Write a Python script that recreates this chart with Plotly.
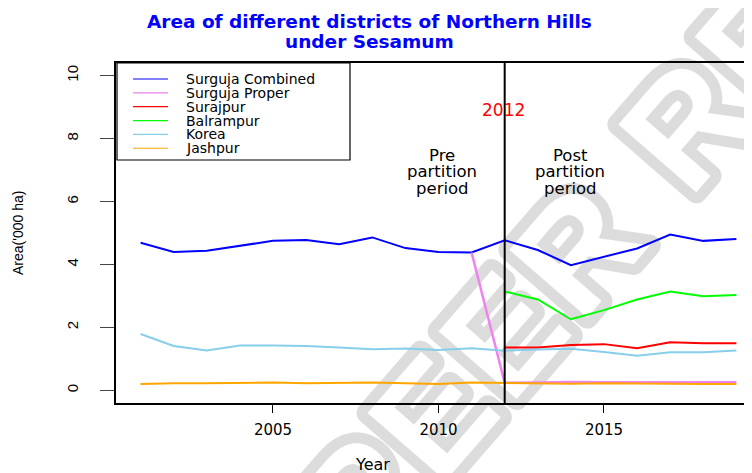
import plotly.graph_objects as go

# ---------------- data ----------------
years = list(range(2001, 2020))
series_names = ["Surguja Combined", "Surguja Proper", "Surajpur", "Balrampur", "Korea", "Jashpur"]
series_colors = ["#0000FF", "#EE82EE", "#FF0000", "#00FF00", "#87CEEB", "#FFA500"]

surguja_combined = [4.69, 4.40, 4.44, 4.60, 4.75, 4.78, 4.64, 4.86, 4.52, 4.40, 4.38,
                    4.77, 4.46, 3.98, 4.25, 4.51, 4.95, 4.75, 4.81]
surguja_proper = [None] * 10 + [4.38, 0.24, 0.25, 0.27, 0.26, 0.27, 0.26, 0.26, 0.26]
surajpur = [None] * 11 + [1.36, 1.36, 1.44, 1.47, 1.34, 1.53, 1.50, 1.50]
balrampur = [None] * 11 + [3.14, 2.89, 2.26, 2.55, 2.89, 3.14, 2.99, 3.03]
korea = [1.79, 1.41, 1.27, 1.43, 1.43, 1.41, 1.36, 1.31, 1.33, 1.28, 1.34,
         1.26, 1.30, 1.32, 1.22, 1.10, 1.21, 1.21, 1.27]
jashpur = [0.20, 0.23, 0.23, 0.25, 0.25, 0.23, 0.25, 0.25, 0.23, 0.20, 0.25,
           0.24, 0.24, 0.21, 0.23, 0.23, 0.21, 0.20, 0.20]
series_values = [surguja_combined, surguja_proper, surajpur, balrampur, korea, jashpur]

x_tickvals = [2005, 2010, 2015]
y_tickvals = [0, 2, 4, 6, 8, 10]
partition_year = 2012

title_lines = ["Area of different districts of Northern Hills", "under Sesamum"]
pre_lines = ["Pre", "partition", "period"]
post_lines = ["Post", "partition", "period"]
watermark_text = "PEER REVIEW"

# ---------------- geometry (screen pixels -> figure paper coords) ----------------
OFF = 8                      # page body margin offset
W, H = 752, 473
L, R, T, B = 116 - OFF, 752, 63 - OFF, 403 - OFF   # plot area in figure pixels
PX_PER_YEAR = 33.1
X0 = 2000.257


def px(x):
    return (x - OFF - L) / (R - L)


def py(y):
    return (B - (y - OFF)) / (B - T)


fig = go.Figure()
for name, color, vals in zip(series_names, series_colors, series_values):
    fig.add_trace(go.Scatter(x=years, y=vals, mode="lines", name=name,
                             line=dict(color=color, width=2.5 if name == "Surguja Proper" else 2),
                             connectgaps=False, showlegend=False))

annotations = []
shapes = []

# watermark (hollow letters, behind data): grey dilated glyphs, then the plain glyphs in white
for color, stroke_w in [("#dcdcdc", 22), ("#ffffff", 0)]:
    style = ("fill:%s;stroke:%s;stroke-width:%dpx;stroke-linejoin:round;letter-spacing:8px"
             % (color, color, stroke_w))
    shapes.append(dict(type="line", x0=px(375), y0=py(462), x1=px(1003), y1=py(-262),
                       xref="paper", yref="paper", line=dict(color="rgba(0,0,0,0)", width=0),
                       layer="below",
                       label=dict(text="<b><span style='%s'>%s</span></b>" % (style, watermark_text),
                                  textposition="middle", textangle=-49, xanchor="center", yanchor="middle",
                                  font=dict(family="Liberation Sans", size=150, color=color))))

# title
for t, yy in zip(title_lines, [21, 41]):
    annotations.append(dict(text="<b>" + t + "</b>", x=px(369), y=py(yy), xref="paper", yref="paper",
                            showarrow=False, xanchor="center", yanchor="middle",
                            font=dict(family="DejaVu Sans", size=18.5, color="#0000FF")))

# y axis title
annotations.append(dict(text="Area('000 ha)", x=px(18), y=0.5, xref="paper", yref="paper",
                        showarrow=False, textangle=-90, xanchor="center", yanchor="middle",
                        font=dict(family="Liberation Sans", size=14, color="#000")))
# x axis title
annotations.append(dict(text="Year", x=px(372), y=py(464), xref="paper", yref="paper",
                        showarrow=False, xanchor="center", yanchor="middle",
                        font=dict(family="DejaVu Sans", size=16, color="#000")))

# 2012 label
annotations.append(dict(text=str(partition_year), x=px(503), y=py(110), xref="paper", yref="paper",
                        showarrow=False, xanchor="center", yanchor="middle",
                        font=dict(family="DejaVu Sans", size=17, color="#FF0000")))
for lines, cx in [(pre_lines, 442), (post_lines, 570)]:
    for t, yy in zip(lines, [155, 171.7, 188.3]):
        annotations.append(dict(text=t, x=px(cx), y=py(yy), xref="paper", yref="paper",
                                showarrow=False, xanchor="center", yanchor="middle",
                                font=dict(family="DejaVu Sans", size=16.5, color="#000")))

# partition line
shapes.append(dict(type="line", x0=partition_year, x1=partition_year, xref="x",
                   y0=0, y1=1, yref="y domain", line=dict(color="#000", width=2), layer="above"))

# manual legend
shapes.append(dict(type="rect", x0=px(117), x1=px(350), y0=py(63), y1=py(160), xref="paper", yref="paper",
                   line=dict(color="#000", width=1.2), fillcolor="white", layer="below"))
for i, (name, color) in enumerate(zip(series_names, series_colors)):
    yy = 79 + i * 13.85
    shapes.append(dict(type="line", x0=px(133), x1=px(168), y0=py(yy), y1=py(yy), xref="paper", yref="paper",
                       line=dict(color=color, width=1.2), layer="above"))
    annotations.append(dict(text=name, x=px(184), y=py(yy), xref="paper", yref="paper",
                            showarrow=False, xanchor="left", yanchor="middle",
                            font=dict(family="DejaVu Sans", size=14, color="#000")))

fig.update_layout(
    width=W, height=H,
    margin=dict(l=L, r=W - R, t=T, b=H - B, pad=0),
    paper_bgcolor="white", plot_bgcolor="rgba(0,0,0,0)",
    showlegend=False,
    annotations=annotations, shapes=shapes,
    xaxis=dict(range=[X0, X0 + (R - L) / PX_PER_YEAR], tickvals=x_tickvals, ticks="outside", ticklen=8,
               tickcolor="#000", tickwidth=1.2, showline=True, linecolor="#000", linewidth=1.5,
               mirror=True, showgrid=False, zeroline=False, ticklabelstandoff=4,
               tickfont=dict(family="DejaVu Sans", size=15, color="#000")),
    yaxis=dict(range=[-0.4, 10.4], tickvals=y_tickvals, ticks="outside", ticklen=14,
               tickcolor="#444", tickwidth=1.2, showline=True, linecolor="#000", linewidth=1.5,
               mirror=False, showgrid=False, zeroline=False, tickangle=-90, ticklabelstandoff=16,
               tickfont=dict(family="Liberation Sans", size=15, color="#000")),
)

fig.write_html("out.html")
